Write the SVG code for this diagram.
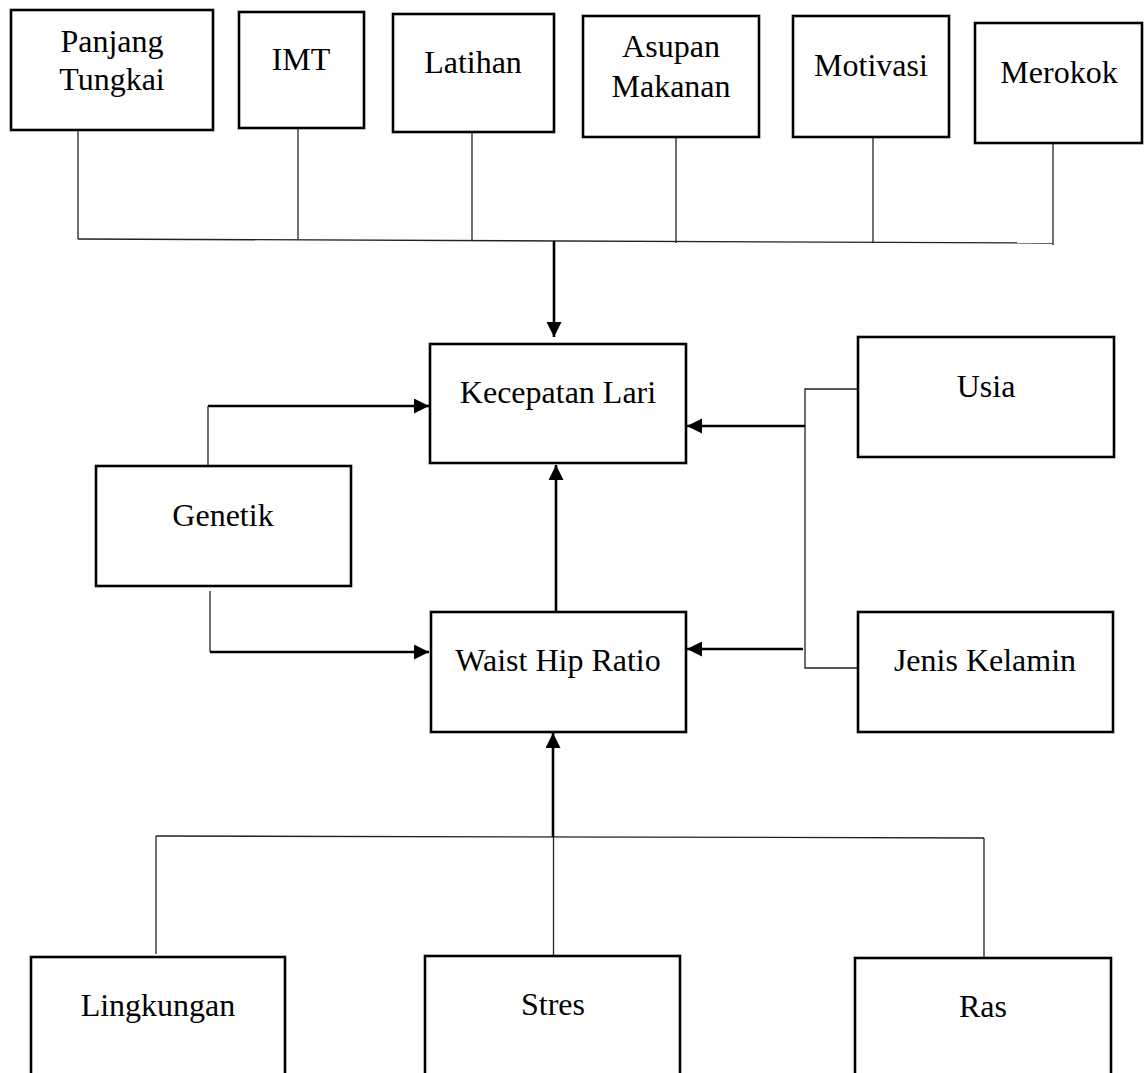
<svg xmlns="http://www.w3.org/2000/svg" width="1146" height="1073" viewBox="0 0 1146 1073">
<style>
.box{fill:#fff;stroke:#000;stroke-width:2.6}
.t{font-family:"Liberation Serif","Times New Roman",serif;font-size:32px;fill:#000;text-anchor:middle}
.thin{fill:none;stroke:#222;stroke-width:1.3}
.thick{fill:none;stroke:#000;stroke-width:2.6}
</style>
<defs>
<marker id="ah" markerUnits="userSpaceOnUse" markerWidth="16" markerHeight="16" refX="15" refY="7.5" orient="auto">
<path d="M0,0 L15,7.5 L0,15 z" fill="#000"/>
</marker>
</defs>
<rect width="1146" height="1073" fill="#fff"/>
<g id="connectors">
<line class="thin" x1="78" y1="130" x2="78" y2="239"/>
<line class="thin" x1="298" y1="128" x2="298" y2="239"/>
<line class="thin" x1="472" y1="132" x2="472" y2="240"/>
<line class="thin" x1="676" y1="137" x2="676" y2="243"/>
<line class="thin" x1="873" y1="137" x2="873" y2="243"/>
<line class="thin" x1="1053" y1="138" x2="1053" y2="245"/>
<line class="thin" x1="78" y1="239" x2="1053" y2="243"/>
<line class="thick" x1="554" y1="241" x2="554" y2="337" marker-end="url(#ah)"/>
<path class="thin" d="M208,466 V406"/>
<path class="thick" d="M208,406 H429" marker-end="url(#ah)"/>
<path class="thin" d="M210,591 V652"/>
<path class="thick" d="M210,652 H429" marker-end="url(#ah)"/>
<path class="thin" d="M858,389 H805 V668 H858"/>
<line class="thick" x1="805" y1="426" x2="687" y2="426" marker-end="url(#ah)"/>
<line class="thick" x1="803" y1="649" x2="687" y2="649" marker-end="url(#ah)"/>
<line class="thick" x1="556" y1="612" x2="556" y2="465" marker-end="url(#ah)"/>
<line class="thin" x1="156" y1="836" x2="984" y2="838"/>
<line class="thin" x1="156" y1="836" x2="156" y2="954"/>
<line class="thin" x1="984" y1="838" x2="984" y2="958"/>
<line class="thin" x1="553.5" y1="956" x2="553.5" y2="836"/>
<line class="thick" x1="553" y1="837" x2="553" y2="733" marker-end="url(#ah)"/>
</g>
<g id="panjang-tungkai"><rect class="box" x="11" y="10" width="202" height="120"/><text class="t" x="112" y="52">Panjang</text><text class="t" x="112" y="90">Tungkai</text></g>
<g id="imt"><rect class="box" x="239" y="12" width="125" height="116"/><text class="t" x="301" y="70">IMT</text></g>
<g id="latihan"><rect class="box" x="393" y="14" width="161" height="118"/><text class="t" x="473" y="73">Latihan</text></g>
<g id="asupan-makanan"><rect class="box" x="583" y="16" width="176" height="121"/><text class="t" x="671" y="57">Asupan</text><text class="t" x="671" y="97">Makanan</text></g>
<g id="motivasi"><rect class="box" x="793" y="16" width="156" height="121"/><text class="t" x="871" y="76">Motivasi</text></g>
<g id="merokok"><rect class="box" x="975" y="23" width="167" height="120"/><text class="t" x="1059" y="83">Merokok</text></g>
<g id="kecepatan-lari"><rect class="box" x="430" y="344" width="256" height="119"/><text class="t" x="558" y="403">Kecepatan Lari</text></g>
<g id="usia"><rect class="box" x="858" y="337" width="256" height="120"/><text class="t" x="986" y="397">Usia</text></g>
<g id="genetik"><rect class="box" x="96" y="466" width="255" height="120"/><text class="t" x="223" y="526">Genetik</text></g>
<g id="waist-hip-ratio"><rect class="box" x="431" y="612" width="255" height="120"/><text class="t" x="558" y="671">Waist Hip Ratio</text></g>
<g id="jenis-kelamin"><rect class="box" x="858" y="612" width="255" height="120"/><text class="t" x="985" y="671">Jenis Kelamin</text></g>
<g id="lingkungan"><rect class="box" x="31" y="957" width="254" height="130"/><text class="t" x="158" y="1016">Lingkungan</text></g>
<g id="stres"><rect class="box" x="425" y="956" width="255" height="130"/><text class="t" x="553" y="1015">Stres</text></g>
<g id="ras"><rect class="box" x="855" y="958" width="256" height="130"/><text class="t" x="983" y="1017">Ras</text></g>
</svg>
